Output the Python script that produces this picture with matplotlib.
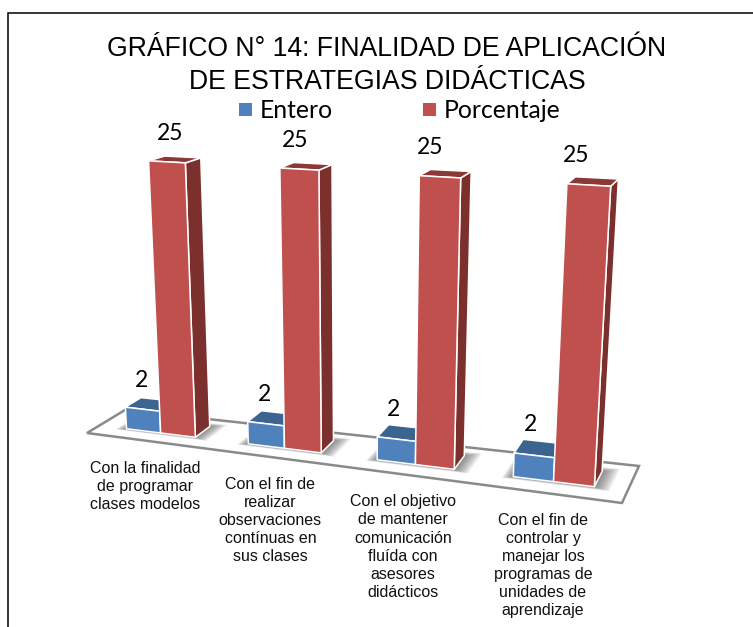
import numpy as np
import matplotlib
matplotlib.use('Agg')
import matplotlib.pyplot as plt
from matplotlib.patches import Polygon, Rectangle

title = 'GRÁFICO N° 14: FINALIDAD DE APLICACIÓN\nDE ESTRATEGIAS DIDÁCTICAS'
categories = ['Con la finalidad\nde programar\nclases modelos',
              'Con el fin de\nrealizar\nobservaciones\ncontínuas en\nsus clases',
              'Con el objetivo\nde mantener\ncomunicación\nfluída con\nasesores\ndidácticos',
              'Con el fin de\ncontrolar y\nmanejar los\nprogramas de\nunidades de\naprendizaje']
series_names = ['Entero', 'Porcentaje']
entero = [2, 2, 2, 2]
porcentaje = [25, 25, 25, 25]

W, H = 753, 627
BLUE, BLUE_DARK = '#4F81BD', '#3B6491'
RED, RED_SIDE, RED_TOP = '#C0504D', '#7B302E', '#8C3836'

# floor corners in pixels: front left, front right, back right, back left
floor = np.array([(87, 433), (622, 503), (639, 466), (125, 410)], dtype=float)
vert_vp = np.array([357.0, 4860.0])
warp = 0.11          # bars get wider towards the viewer
rise = 0.0612 / 25   # height per unit, as a share of the distance to vert_vp
rise_grow = 0.0022   # and how it grows further down the picture

# the big value labels sit left of their bars, more so to the right (pixels)
red_label_nudge = [-5, -11, -15, -17]


def project(u, v, val=0):
    s = u * (1 - warp + warp * u)
    front = floor[0] + s * (floor[1] - floor[0])
    back = floor[3] + s * (floor[2] - floor[3])
    p = front + v * (back - front)
    t = rise * val * (1 + rise_grow * (p[1] - 431))
    return tuple(p + t * (p - vert_vp))


def draw_bar(ax, u0, u1, v0, v1, val, front, side, top):
    fc = [project(u0, v0), project(u1, v0), project(u1, v0, val), project(u0, v0, val)]
    sc = [project(u1, v0), project(u1, v1), project(u1, v1, val), project(u1, v0, val)]
    tc = [project(u0, v0, val), project(u1, v0, val), project(u1, v1, val), project(u0, v1, val)]
    for pts, col in ((sc, side), (tc, top), (fc, front)):
        ax.add_patch(Polygon(pts, closed=True, fc=col, ec='white', lw=1.1, joinstyle='round'))


def draw_shadow(ax, u0, u1, v0, v1):
    # soft shadow, many thin layers from wide to narrow
    n = 16
    for k in range(n):
        m = (n - k) / n
        pts = [project(u0 - 0.018 * m, v0 - 0.07 * m), project(u1 + 0.028 * m, v0 - 0.07 * m),
               project(u1 + 0.028 * m, v1 + 0.12 * m), project(u0 - 0.018 * m, v1 + 0.12 * m)]
        ax.add_patch(Polygon(pts, closed=True, fc='#404040', ec='none', alpha=0.05))


fig = plt.figure(figsize=(W / 100, H / 100), dpi=100)
ax = fig.add_axes([0, 0, 1, 1])
ax.set_xlim(0, W)
ax.set_ylim(H, 0)
ax.axis('off')

# page frame: only the left and top lines show
ax.plot([8, 8, W], [H, 12.5, 12.5], color='black', lw=1.1, solid_joinstyle='miter')

ax.add_patch(Polygon(floor, closed=True, fc='white', ec='#8A8A8A', lw=1.8))

bar_w = 0.071
bar_v0, bar_v1 = 0.33, 0.75
first_u, step_u = 0.128, 0.248

for i in range(len(categories)):
    mid = first_u + i * step_u
    draw_shadow(ax, mid - bar_w, mid + bar_w, bar_v0, bar_v1)
    draw_bar(ax, mid - bar_w, mid, bar_v0, bar_v1, entero[i], BLUE, BLUE_DARK, BLUE_DARK)
    draw_bar(ax, mid, mid + bar_w, bar_v0, bar_v1, porcentaje[i], RED, RED_SIDE, RED_TOP)

    lx, ly = project(mid - bar_w / 2, (bar_v0 + bar_v1) / 2, entero[i])
    ax.annotate(str(entero[i]), (lx, ly), xytext=(-6, 9.5), textcoords='offset points',
                ha='center', va='bottom', fontsize=16.5, family='Lato', color='black')
    lx, ly = project(mid + bar_w / 2, (bar_v0 + bar_v1) / 2, porcentaje[i])
    ax.annotate(str(porcentaje[i]), (lx + red_label_nudge[i], ly), xytext=(0, 11),
                textcoords='offset points',
                ha='center', va='bottom', fontsize=16.5, family='Lato', color='black')

    tx, ty = project(mid, 0)
    ax.text(tx - 4, ty + 19.5, categories[i], ha='center', va='top', fontsize=11.5,
            family='Liberation Sans', linespacing=1.26, color='#111111')

ax.text(387, 65.5, title, ha='center', va='center', fontsize=19.15,
        family='Liberation Sans', linespacing=1.34, color='black')

for x, name, col in ((239, series_names[0], BLUE), (423, series_names[1], RED)):
    ax.add_patch(Rectangle((x, 103), 13, 13, fc=col, ec='none'))
    ax.text(x + 21, 110, name, ha='left', va='center', fontsize=17.8,
            family='Lato', color='black')

fig.savefig('out.png', dpi=100)
